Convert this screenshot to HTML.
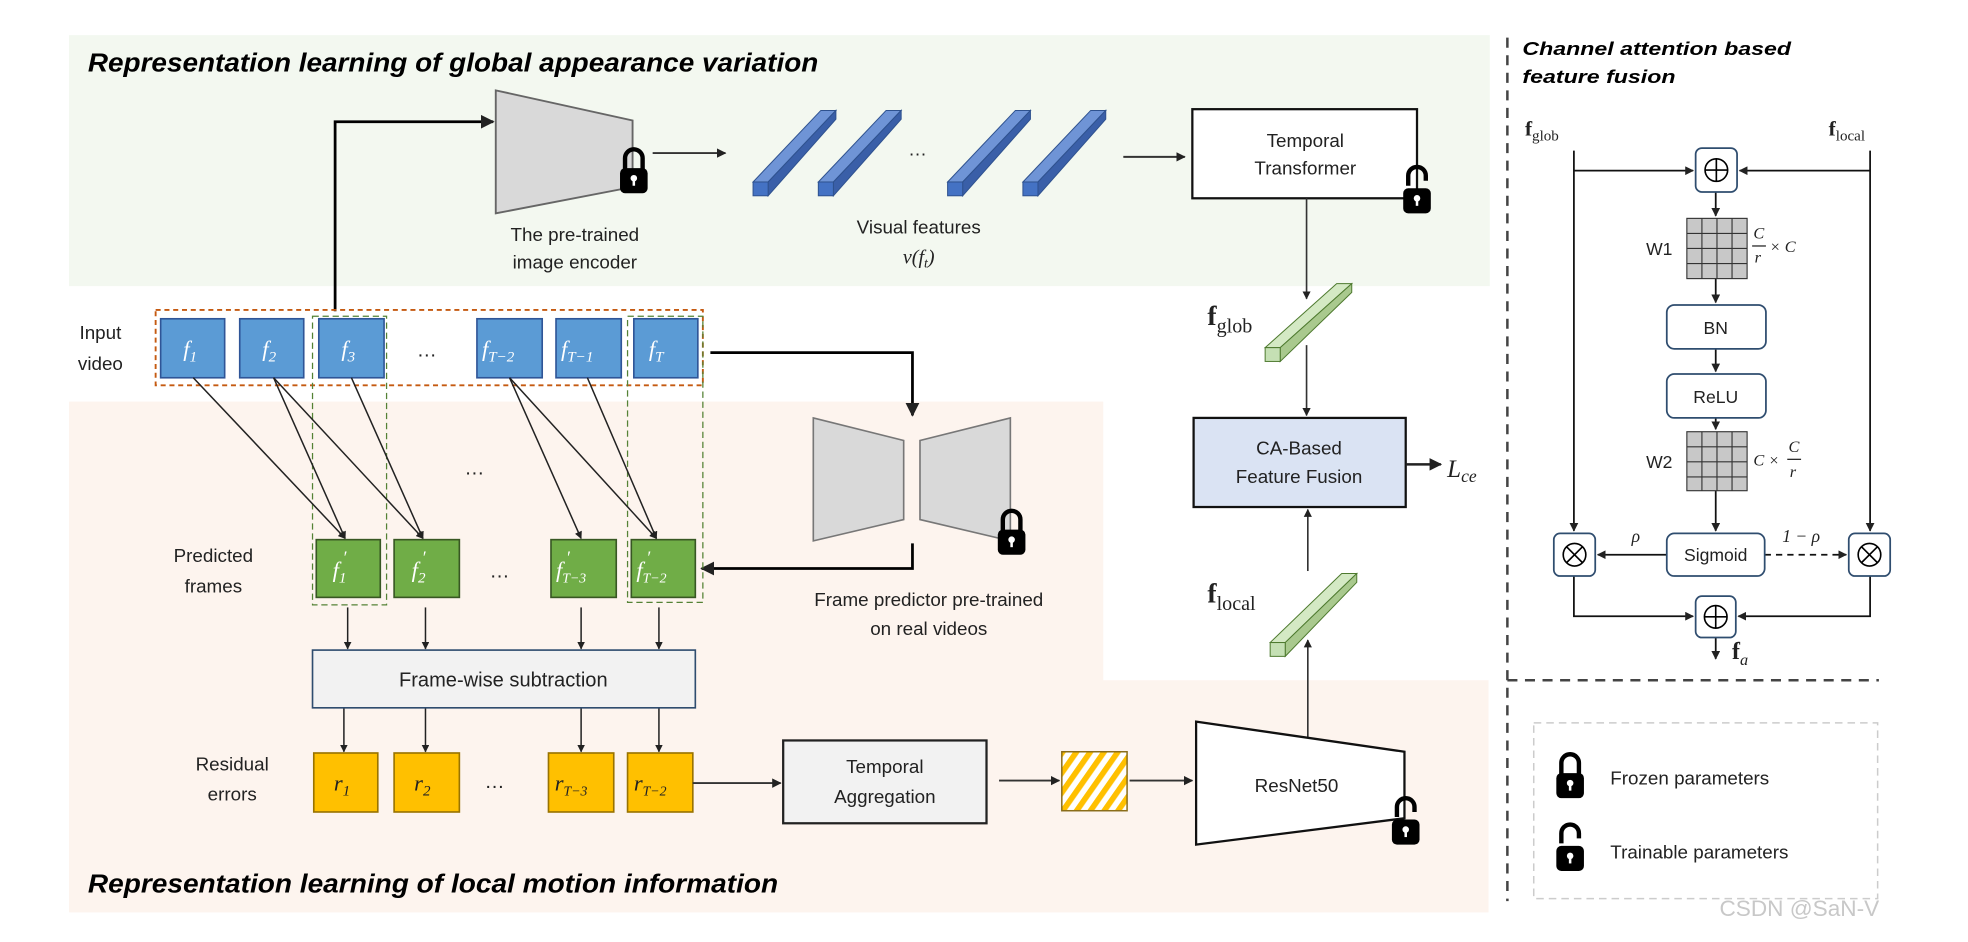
<!DOCTYPE html>
<html><head><meta charset="utf-8"><style>
html,body{margin:0;padding:0;background:#fff;}
svg{display:block}
text{font-family:"Liberation Sans",sans-serif;fill:#222}
.m{font-family:"Liberation Serif",serif;font-style:italic}
.b{font-family:"Liberation Serif",serif;font-weight:bold}
.t{font-style:italic;font-weight:bold;fill:#000}
</style></head><body>
<svg width="1968" height="942" viewBox="0 0 1568 750.6" preserveAspectRatio="none" xmlns="http://www.w3.org/2000/svg">
<defs>
<marker id="a" viewBox="0 0 10 10" refX="9" refY="5" markerWidth="5" markerHeight="5" orient="auto-start-reverse"><path d="M0,0 L10,5 L0,10 z" fill="#222"/></marker>
<pattern id="h" width="9" height="9" patternUnits="userSpaceOnUse" patternTransform="rotate(35)"><rect width="9" height="9" fill="#fff"/><rect width="4.5" height="9" fill="#ffc000"/></pattern>
<g id="lk"><path d="M-7,0 V-10 A7,7 0 0 1 7,-10 V0" fill="none" stroke="#000" stroke-width="3.5"/><rect x="-11" y="-2" width="22" height="20" rx="4" fill="#000"/><circle cx="0" cy="6" r="2.6" fill="#fff"/><rect x="-1" y="6" width="2" height="6" fill="#fff"/></g>
<g id="ulk"><path d="M-7,-4 V-12 A7,7 0 0 1 7,-12 V-8" fill="none" stroke="#000" stroke-width="3.5"/><rect x="-11" y="-2" width="22" height="20" rx="4" fill="#000"/><circle cx="0" cy="6" r="2.6" fill="#fff"/><rect x="-1" y="6" width="2" height="6" fill="#fff"/></g>
</defs>

<rect x="55" y="28" width="1132" height="200" fill="#f3f8f0"/>
<path d="M55,320 H879 V542 H1186 V727 H55 Z" fill="#fdf4ee"/>

<text x="70" y="57" class="t" font-size="21" textLength="582" lengthAdjust="spacingAndGlyphs">Representation learning of global appearance variation</text>
<text x="70" y="711" class="t" font-size="21" textLength="550" lengthAdjust="spacingAndGlyphs">Representation learning of local motion information</text>

<polygon points="395,72 504,96 504,149 395,170" fill="#d9d9d9" stroke="#666" stroke-width="1.5"/>
<use href="#lk" x="505" y="136"/>
<text x="458" y="192" font-size="15" text-anchor="middle">The pre-trained</text>
<text x="458" y="214" font-size="15" text-anchor="middle">image encoder</text>
<path d="M267,248 V97 H393" fill="none" stroke="#000" stroke-width="2.2" marker-end="url(#a)"/>
<path d="M520,122 H578" stroke="#333" stroke-width="1.5" marker-end="url(#a)"/>

<g stroke="#2f528f" stroke-width="0.8">
<g transform="translate(600,145)"><polygon points="0,0 54,-57 66,-57 12,0" fill="#6f94d6"/><polygon points="12,0 66,-57 66,-50 12,11" fill="#3a5fa8"/><rect x="0" y="0" width="12" height="11" fill="#4472c4"/></g>
<g transform="translate(652,145)"><polygon points="0,0 54,-57 66,-57 12,0" fill="#6f94d6"/><polygon points="12,0 66,-57 66,-50 12,11" fill="#3a5fa8"/><rect x="0" y="0" width="12" height="11" fill="#4472c4"/></g>
<g transform="translate(755,145)"><polygon points="0,0 54,-57 66,-57 12,0" fill="#6f94d6"/><polygon points="12,0 66,-57 66,-50 12,11" fill="#3a5fa8"/><rect x="0" y="0" width="12" height="11" fill="#4472c4"/></g>
<g transform="translate(815,145)"><polygon points="0,0 54,-57 66,-57 12,0" fill="#6f94d6"/><polygon points="12,0 66,-57 66,-50 12,11" fill="#3a5fa8"/><rect x="0" y="0" width="12" height="11" fill="#4472c4"/></g>
</g>
<text x="731" y="124" font-size="15" text-anchor="middle">…</text>
<text x="732" y="186" font-size="15" text-anchor="middle">Visual features</text>
<text x="732" y="210" font-size="16" text-anchor="middle" class="m">v(f<tspan font-size="11" dy="3">t</tspan><tspan dy="-3">)</tspan></text>
<path d="M895,125 H944" stroke="#333" stroke-width="1.5" marker-end="url(#a)"/>

<rect x="950" y="87" width="179" height="71" fill="#fff" stroke="#111" stroke-width="1.8"/>
<text x="1040" y="117" font-size="15" text-anchor="middle">Temporal</text>
<text x="1040" y="139" font-size="15" text-anchor="middle">Transformer</text>
<use href="#ulk" x="1129" y="152"/>
<path d="M1041,158 V238" stroke="#333" stroke-width="1.3" marker-end="url(#a)"/>

<g stroke="#4e7a2f" stroke-width="0.8"><g transform="translate(1008,277)"><polygon points="0,0 57,-51 69,-51 12,0" fill="#d4e9c4"/><polygon points="12,0 69,-51 69,-44 12,11" fill="#a9c98e"/><rect width="12" height="11" fill="#c5e0b4"/></g></g>
<text x="962" y="259" font-size="22" class="b">f<tspan font-size="16" font-weight="normal" dy="6">glob</tspan></text>
<path d="M1041,275 V331" stroke="#333" stroke-width="1.3" marker-end="url(#a)"/>

<rect x="951" y="333" width="169" height="71" fill="#dae3f3" stroke="#111" stroke-width="1.8"/>
<text x="1035" y="362" font-size="15" text-anchor="middle">CA-Based</text>
<text x="1035" y="385" font-size="15" text-anchor="middle">Feature Fusion</text>
<path d="M1120,370 H1148" stroke="#222" stroke-width="2" marker-end="url(#a)"/>
<text x="1153" y="380" font-size="20" class="m">L<tspan font-size="14" dy="4">ce</tspan></text>

<g stroke="#4e7a2f" stroke-width="0.8"><g transform="translate(1012,512)"><polygon points="0,0 57,-55 69,-55 12,0" fill="#d4e9c4"/><polygon points="12,0 69,-55 69,-48 12,11" fill="#a9c98e"/><rect width="12" height="11" fill="#c5e0b4"/></g></g>
<text x="962" y="480" font-size="22" class="b">f<tspan font-size="16" font-weight="normal" dy="6">local</tspan></text>
<path d="M1042,600 V510" stroke="#333" stroke-width="1.3" marker-end="url(#a)"/>
<path d="M1042,455 V406" stroke="#333" stroke-width="1.3" marker-end="url(#a)"/>

<polygon points="953,575 1119,599 1119,652 953,673" fill="#fff" stroke="#111" stroke-width="1.8"/>
<text x="1033" y="631" font-size="15" text-anchor="middle">ResNet50</text>
<use href="#ulk" x="1120" y="655"/>

<rect x="846" y="599" width="52" height="47" fill="url(#h)" stroke="#8a6d1a" stroke-width="1.2"/>
<path d="M796,622 H844" stroke="#333" stroke-width="1.5" marker-end="url(#a)"/>
<path d="M900,622 H950" stroke="#333" stroke-width="1.5" marker-end="url(#a)"/>

<rect x="624" y="590" width="162" height="66" fill="#f2f2f2" stroke="#222" stroke-width="1.8"/>
<text x="705" y="616" font-size="15" text-anchor="middle">Temporal</text>
<text x="705" y="640" font-size="15" text-anchor="middle">Aggregation</text>

<polygon points="648,333 720,351 720,414 648,431" fill="#d9d9d9" stroke="#777" stroke-width="1.3"/>
<polygon points="805,333 733,351 733,414 805,431" fill="#d9d9d9" stroke="#777" stroke-width="1.3"/>
<use href="#lk" x="806" y="424"/>
<text x="740" y="483" font-size="15" text-anchor="middle">Frame predictor pre-trained</text>
<text x="740" y="506" font-size="15" text-anchor="middle">on real videos</text>
<path d="M566,281 H727 V331" fill="none" stroke="#000" stroke-width="2.2" marker-end="url(#a)"/>
<path d="M727,433 V453 H559" fill="none" stroke="#000" stroke-width="2.2" marker-end="url(#a)"/>

<text x="80" y="270" font-size="15" text-anchor="middle">Input</text>
<text x="80" y="295" font-size="15" text-anchor="middle">video</text>
<rect x="124" y="247" width="436" height="60" fill="none" stroke="#c55a11" stroke-width="1.5" stroke-dasharray="4,3"/>
<g fill="none" stroke="#548235" stroke-width="1" stroke-dasharray="5,3">
<rect x="249" y="252" width="59" height="230"/>
<rect x="500" y="252" width="60" height="228"/>
</g>
<g fill="#5b9bd5" stroke="#2f5597" stroke-width="1.3">
<rect x="128" y="254" width="51" height="47"/><rect x="191" y="254" width="51" height="47"/><rect x="254" y="254" width="52" height="47"/>
<rect x="380" y="254" width="52" height="47"/><rect x="443" y="254" width="52" height="47"/><rect x="505" y="254" width="51" height="47"/>
</g>
<g>
<text x="146" y="284" style="fill:#fff" class="m" font-size="18">f<tspan font-size="12" dy="4">1</tspan></text>
<text x="209" y="284" style="fill:#fff" class="m" font-size="18">f<tspan font-size="12" dy="4">2</tspan></text>
<text x="272" y="284" style="fill:#fff" class="m" font-size="18">f<tspan font-size="12" dy="4">3</tspan></text>
<text x="384" y="284" style="fill:#fff" class="m" font-size="18">f<tspan font-size="12" dy="4">T−2</tspan></text>
<text x="447" y="284" style="fill:#fff" class="m" font-size="18">f<tspan font-size="12" dy="4">T−1</tspan></text>
<text x="517" y="284" style="fill:#fff" class="m" font-size="18">f<tspan font-size="12" dy="4">T</tspan></text>
</g>
<text x="340" y="284" font-size="16" text-anchor="middle">…</text>

<g stroke="#222" stroke-width="1.2" marker-end="url(#a)">
<path d="M154,301 L275,429"/><path d="M218,301 L275,429"/><path d="M218,301 L337,429"/><path d="M280,301 L337,429"/>
<path d="M406,301 L463,429"/><path d="M406,301 L523,429"/><path d="M468,301 L523,429"/>
</g>
<text x="378" y="378" font-size="16" text-anchor="middle">…</text>

<text x="170" y="448" font-size="15" text-anchor="middle">Predicted</text>
<text x="170" y="472" font-size="15" text-anchor="middle">frames</text>
<g fill="#70ad47" stroke="#385723" stroke-width="1.3">
<rect x="252" y="430" width="51" height="46"/><rect x="314" y="430" width="52" height="46"/><rect x="439" y="430" width="52" height="46"/><rect x="503" y="430" width="51" height="46"/>
</g>
<g font-size="18">
<text x="265" y="460" style="fill:#fff" class="m">f<tspan font-size="12" dy="4">1</tspan></text><text x="273" y="449" style="fill:#fff" class="m" font-size="14">′</text>
<text x="328" y="460" style="fill:#fff" class="m">f<tspan font-size="12" dy="4">2</tspan></text><text x="336" y="449" style="fill:#fff" class="m" font-size="14">′</text>
<text x="443" y="460" style="fill:#fff" class="m">f<tspan font-size="11" dy="4">T−3</tspan></text><text x="451" y="449" style="fill:#fff" class="m" font-size="14">′</text>
<text x="507" y="460" style="fill:#fff" class="m">f<tspan font-size="11" dy="4">T−2</tspan></text><text x="515" y="449" style="fill:#fff" class="m" font-size="14">′</text>
</g>
<text x="398" y="460" font-size="16" text-anchor="middle">…</text>

<g stroke="#222" stroke-width="1.2" marker-end="url(#a)">
<path d="M277,484 V517"/><path d="M339,484 V517"/><path d="M463,484 V517"/><path d="M525,484 V517"/>
<path d="M274,564 V599"/><path d="M339,564 V599"/><path d="M463,564 V599"/><path d="M525,564 V599"/>
</g>
<rect x="249" y="518" width="305" height="46" fill="#f2f2f2" stroke="#2f4d6f" stroke-width="1.3"/>
<text x="401" y="547" font-size="16" text-anchor="middle">Frame-wise subtraction</text>

<text x="185" y="614" font-size="15" text-anchor="middle">Residual</text>
<text x="185" y="638" font-size="15" text-anchor="middle">errors</text>
<g fill="#ffc000" stroke="#997300" stroke-width="1.3">
<rect x="250" y="600" width="51" height="47"/><rect x="314" y="600" width="52" height="47"/><rect x="437" y="600" width="52" height="47"/><rect x="500" y="600" width="52" height="47"/>
</g>
<text x="266" y="630" class="m" font-size="18">r<tspan font-size="12" dy="4">1</tspan></text>
<text x="330" y="630" class="m" font-size="18">r<tspan font-size="12" dy="4">2</tspan></text>
<text x="442" y="630" class="m" font-size="18">r<tspan font-size="11" dy="4">T−3</tspan></text>
<text x="505" y="630" class="m" font-size="18">r<tspan font-size="11" dy="4">T−2</tspan></text>
<text x="394" y="628" font-size="16" text-anchor="middle">…</text>
<path d="M552,624 H622" stroke="#333" stroke-width="1.5" marker-end="url(#a)"/>

<path d="M1201,30 V718" stroke="#444" stroke-width="2" stroke-dasharray="8,6"/>
<path d="M1201,542 H1497" stroke="#444" stroke-width="2" stroke-dasharray="8,6"/>
<text x="1213" y="44" class="t" font-size="15" textLength="214" lengthAdjust="spacingAndGlyphs">Channel attention based</text>
<text x="1213" y="66" class="t" font-size="15" textLength="122" lengthAdjust="spacingAndGlyphs">feature fusion</text>
<text x="1215" y="108" font-size="17" class="b">f<tspan font-size="12" font-weight="normal" dy="4">glob</tspan></text>
<text x="1457" y="108" font-size="17" class="b">f<tspan font-size="12" font-weight="normal" dy="4">local</tspan></text>
<g stroke="#111" stroke-width="1.4" fill="none">
<path d="M1254,120 V423" marker-end="url(#a)"/>
<path d="M1490,120 V423" marker-end="url(#a)"/>
<path d="M1254,136 H1349" marker-end="url(#a)"/>
<path d="M1490,136 H1386" marker-end="url(#a)"/>
<path d="M1367,153 V172" marker-end="url(#a)"/>
<path d="M1367,222 V241" marker-end="url(#a)"/>
<path d="M1367,278 V296" marker-end="url(#a)"/>
<path d="M1367,333 V342" marker-end="url(#a)"/>
<path d="M1367,391 V423" marker-end="url(#a)"/>
<path d="M1328,442 H1273" marker-end="url(#a)"/>
<path d="M1406,442 H1471" stroke-dasharray="5,4" marker-end="url(#a)"/>
<path d="M1254,459 V491 H1349" marker-end="url(#a)"/>
<path d="M1490,459 V491 H1385" marker-end="url(#a)"/>
<path d="M1367,508 V525" marker-end="url(#a)"/>
</g>
<g fill="#fff" stroke="#2f4d6f" stroke-width="1.4">
<rect x="1351" y="118" width="33" height="35" rx="5"/>
<rect x="1328" y="243" width="79" height="35" rx="6"/>
<rect x="1328" y="298" width="79" height="35" rx="6"/>
<rect x="1328" y="425" width="78" height="34" rx="6"/>
<rect x="1238" y="425" width="33" height="34" rx="5"/>
<rect x="1473" y="425" width="33" height="34" rx="5"/>
<rect x="1351" y="475" width="32" height="33" rx="5"/>
</g>
<g fill="none" stroke="#000" stroke-width="1.3">
<circle cx="1367.5" cy="135.5" r="9"/><path d="M1358.5,135.5 H1376.5 M1367.5,126.5 V144.5"/>
<circle cx="1367" cy="491.5" r="9"/><path d="M1358,491.5 H1376 M1367,482.5 V500.5"/>
<circle cx="1254.5" cy="442" r="9"/><path d="M1248.1,435.6 L1260.9,448.4 M1260.9,435.6 L1248.1,448.4"/>
<circle cx="1489.5" cy="442" r="9"/><path d="M1483.1,435.6 L1495.9,448.4 M1495.9,435.6 L1483.1,448.4"/>
</g>
<g stroke="#333" stroke-width="0.9">
<rect x="1344" y="174" width="48" height="48" fill="#c8c8c8"/>
<path d="M1356,174 V222 M1368,174 V222 M1380,174 V222 M1344,186 H1392 M1344,198 H1392 M1344,210 H1392"/>
<rect x="1344" y="344" width="48" height="47" fill="#c8c8c8"/>
<path d="M1356,344 V391 M1368,344 V391 M1380,344 V391 M1344,356 H1392 M1344,368 H1392 M1344,380 H1392"/>
</g>
<text x="1322" y="203" font-size="14" text-anchor="middle">W1</text>
<text x="1322" y="373" font-size="14" text-anchor="middle">W2</text>
<g font-size="13">
<text x="1397" y="190" class="m">C</text><path d="M1396,196 H1407" stroke="#222"/><text x="1398" y="209" class="m">r</text><text x="1410" y="201" class="m">× C</text>
<text x="1397" y="371" class="m">C ×</text><text x="1425" y="360" class="m">C</text><path d="M1424,366 H1435" stroke="#222"/><text x="1426" y="380" class="m">r</text>
</g>
<text x="1367" y="447" font-size="14" text-anchor="middle">Sigmoid</text>
<text x="1367" y="266" font-size="14" text-anchor="middle">BN</text>
<text x="1367" y="321" font-size="14" text-anchor="middle">ReLU</text>
<text x="1300" y="432" class="m" font-size="14">ρ</text>
<text x="1420" y="432" class="m" font-size="14">1 − ρ</text>
<text x="1380" y="525" font-size="19" class="b">f<tspan font-size="13" font-weight="normal" font-style="italic" dy="5">a</tspan></text>

<rect x="1222" y="576" width="274" height="140" fill="none" stroke="#ccc" stroke-width="1.2" stroke-dasharray="6,4"/>
<use href="#lk" x="1251" y="618"/>
<use href="#ulk" x="1251" y="676"/>
<text x="1283" y="625" font-size="15">Frozen parameters</text>
<text x="1283" y="684" font-size="15">Trainable parameters</text>
<text x="1370" y="730" font-size="18" style="fill:#c8c8c8">CSDN @SaN-V</text>
</svg>
</body></html>
